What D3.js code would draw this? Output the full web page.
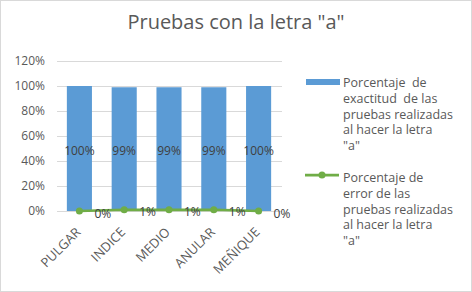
<!DOCTYPE html>
<html>
<head>
<meta charset="utf-8">
<script src="https://cdn.jsdelivr.net/npm/d3@7"></script>
<style>
  body { margin: 0; background: #fff; }
  svg { display: block; font-family: "Open Sans", "Liberation Sans", sans-serif; }
</style>
</head>
<body>
<div id="chart"></div>
<script>
const categories = ["PULGAR", "INDICE", "MEDIO", "ANULAR", "MEÑIQUE"];
const exactitud = [100, 99, 99, 99, 100];
const error = [0, 1, 1, 1, 0];
const yTicks = [0, 20, 40, 60, 80, 100, 120];
const legendBar = ["Porcentaje  de", "exactitud  de las", "pruebas realizadas", "al hacer la letra", "\"a\""];
const legendLine = ["Porcentaje de", "error de las", "pruebas realizadas", "al hacer la letra", "\"a\""];

const W = 472, H = 292;
const svg = d3.select("#chart").append("svg")
    .attr("width", W)
    .attr("height", H);

svg.append("rect")
    .attr("x", 0.5).attr("y", 0.5)
    .attr("width", W - 1).attr("height", H - 1)
    .attr("fill", "#fff")
    .attr("stroke", "#d9d9d9");

svg.append("text")
    .attr("x", 236)
    .attr("y", 29)
    .attr("text-anchor", "middle")
    .attr("fill", "#595959")
    .style("font-size", "20px")
    .text("Pruebas con la letra \"a\"");

const x = d3.scaleBand()
    .domain(categories)
    .range([57, 281])
    .paddingInner(0.44)
    .paddingOuter(0.22);

const y = d3.scaleLinear()
    .domain([0, 120])
    .range([211, 61]);

// grid
svg.append("g")
    .selectAll("line")
    .data(yTicks)
    .enter()
    .append("line")
    .attr("x1", 57).attr("x2", 282)
    .attr("y1", d => Math.round(y(d)) + 0.5)
    .attr("y2", d => Math.round(y(d)) + 0.5)
    .attr("stroke", "#d9d9d9");

const yAxis = svg.append("g")
    .attr("transform", "translate(50,0)")
    .call(d3.axisLeft(y).tickValues(yTicks).tickSize(0).tickPadding(5).tickFormat(d => d + "%"));
yAxis.select(".domain").remove();
yAxis.selectAll("text")
    .attr("fill", "#595959")
    .style("font-size", "12px")
    .style("font-family", "'Open Sans', sans-serif");

// bars
svg.append("g")
    .selectAll("rect")
    .data(categories)
    .enter()
    .append("rect")
    .attr("x", d => x(d))
    .attr("width", x.bandwidth())
    .attr("y", (d, i) => y(exactitud[i]))
    .attr("height", (d, i) => y(0) - y(exactitud[i]))
    .attr("fill", "#5b9bd5");

svg.append("g")
    .selectAll("text")
    .data(categories)
    .enter()
    .append("text")
    .attr("x", d => x(d) + x.bandwidth() / 2)
    .attr("y", (d, i) => (y(exactitud[i]) + y(0)) / 2 + 6)
    .attr("text-anchor", "middle")
    .attr("fill", "#404040")
    .style("font-size", "12px")
    .text((d, i) => exactitud[i] + "%");

// line
const cx = d => x(d) + x.bandwidth() / 2;
const line = d3.line()
    .x((d, i) => cx(categories[i]))
    .y(d => y(d));

svg.append("path")
    .datum(error)
    .attr("d", line)
    .attr("fill", "none")
    .attr("stroke", "#70ad47")
    .attr("stroke-width", 2.75);

svg.append("g")
    .selectAll("circle")
    .data(error)
    .enter()
    .append("circle")
    .attr("cx", (d, i) => cx(categories[i]))
    .attr("cy", d => y(d))
    .attr("r", 3.5)
    .attr("fill", "#70ad47");

svg.append("g")
    .selectAll("text")
    .data(error)
    .enter()
    .append("text")
    .attr("x", (d, i) => cx(categories[i]) + 15)
    .attr("y", d => y(d) + 6.5)
    .attr("fill", "#404040")
    .style("font-size", "12px")
    .text(d => d + "%");

// x labels
svg.append("g")
    .selectAll("text")
    .data(categories)
    .enter()
    .append("text")
    .attr("transform", d => `translate(${cx(d) + 2},${233}) rotate(-45)`)
    .attr("text-anchor", "end")
    .attr("fill", "#595959")
    .style("font-size", "13px")
    .text(d => d);

// legend
const lg = svg.append("g");
lg.append("rect")
    .attr("x", 306).attr("y", 79)
    .attr("width", 34).attr("height", 6)
    .attr("fill", "#5b9bd5");
lg.append("text")
    .attr("x", 343).attr("y", 87)
    .attr("fill", "#595959")
    .style("font-size", "12.5px")
    .selectAll("tspan")
    .data(legendBar)
    .enter()
    .append("tspan")
    .attr("x", 343)
    .attr("dy", (d, i) => i === 0 ? 0 : 15.8)
    .style("white-space", "pre")
    .text(d => d);

lg.append("line")
    .attr("x1", 305).attr("x2", 339)
    .attr("y1", 175).attr("y2", 175)
    .attr("stroke", "#70ad47")
    .attr("stroke-width", 2.75);
lg.append("circle")
    .attr("cx", 322).attr("cy", 175).attr("r", 3.5)
    .attr("fill", "#70ad47");
lg.append("text")
    .attr("x", 343).attr("y", 182)
    .attr("fill", "#595959")
    .style("font-size", "12.5px")
    .selectAll("tspan")
    .data(legendLine)
    .enter()
    .append("tspan")
    .attr("x", 343)
    .attr("dy", (d, i) => i === 0 ? 0 : 15.8)
    .text(d => d);
</script>
</body>
</html>
